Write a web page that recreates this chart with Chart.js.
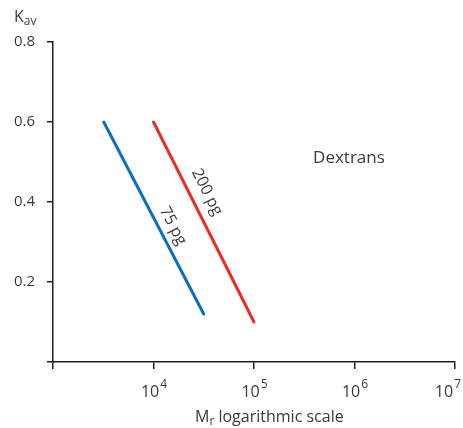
<!DOCTYPE html>
<html>
<head>
<meta charset="utf-8">
<script src="https://cdn.jsdelivr.net/npm/chart.js@4"></script>
<style>
  html, body { margin: 0; padding: 0; background: #fff; }
</style>
</head>
<body>
<canvas id="chart" width="463" height="428"></canvas>
<script>
// Данные
const seriesNames = ["75 pg", "200 pg"];
const mr75 = [3200, 31600];
const kav75 = [0.6, 0.12];
const mr200 = [10000, 100000];
const kav200 = [0.6, 0.1];
const xTickValues = [1e3, 1e4, 1e5, 1e6, 1e7];
const xTickExponents = ["", "4", "5", "6", "7"];
const yTickValues = [0, 0.2, 0.4, 0.6, 0.8];
const yTickLabels = ["", "0.2", "0.4", "0.6", "0.8"];
// Точки привязки подписей (в координатах данных)
const label75At = [15600, 0.34];
const label200At = [34000, 0.425];
const noteText = "Dextrans";
const noteAt = [880000, 0.51];

const FONT = "'Open Sans', sans-serif";
const TEXT = "#3a3a3a";
const AXIS = "#1e1e1e";

const toPoints = (xs, ys) => xs.map((x, i) => ({ x: x, y: ys[i] }));

// Подписи, заголовки осей, степени десяти
const annotations = {
  id: "annotations",
  afterDraw(chart) {
    let c = chart.ctx;
    let xs = chart.scales.x;
    let ys = chart.scales.y;
    c.save();
    c.fillStyle = TEXT;
    c.textAlign = "left";
    c.textBaseline = "alphabetic";

    // 10^n
    xTickValues.forEach((v, i) => {
      let e = xTickExponents[i];
      if (!e) return;
      let px = xs.getPixelForValue(v);
      c.font = "16px " + FONT;
      let bw = c.measureText("10").width;
      c.font = "12px " + FONT;
      let ew = c.measureText(e).width;
      let x0 = px - (bw + ew) / 2;
      // последняя подпись прижимается к краю
      x0 = Math.min(x0, chart.width - 2 - bw - ew - 1);
      c.font = "16px " + FONT;
      c.fillText("10", x0, 397);
      c.font = "12px " + FONT;
      c.fillText(e, x0 + bw + 1, 388);
    });

    // K_av
    c.font = "16px " + FONT;
    c.fillText("K", 14, 22);
    let kw = c.measureText("K").width;
    c.font = "12px " + FONT;
    c.fillText("av", 14 + kw, 25);

    // M_r logarithmic scale
    let tx = 195;
    c.font = "16px " + FONT;
    c.fillText("M", tx, 422);
    tx += c.measureText("M").width;
    c.font = "12px " + FONT;
    c.fillText("r", tx, 425);
    tx += c.measureText("r").width;
    c.font = "16px " + FONT;
    c.fillText(" logarithmic scale", tx, 422);

    // Dextrans
    c.font = "17px " + FONT;
    c.textAlign = "center";
    c.textBaseline = "middle";
    c.fillText(noteText, xs.getPixelForValue(noteAt[0]), ys.getPixelForValue(noteAt[1]));

    // подписи вдоль линий
    const drawAlong = (text, at, mx, my) => {
      let dx = xs.getPixelForValue(mx[1]) - xs.getPixelForValue(mx[0]);
      let dy = ys.getPixelForValue(my[1]) - ys.getPixelForValue(my[0]);
      c.save();
      c.translate(xs.getPixelForValue(at[0]), ys.getPixelForValue(at[1]));
      c.rotate(Math.atan2(dy, dx));
      c.font = "16px " + FONT;
      c.fillText(text, 0, 0);
      c.restore();
    };
    drawAlong(seriesNames[0], label75At, mr75, kav75);
    drawAlong(seriesNames[1], label200At, mr200, kav200);
    c.restore();
  },
};

let ctx = document.getElementById("chart").getContext("2d");
let chart = new Chart(ctx, {
  type: "line",
  data: {
    datasets: [
      {
        label: seriesNames[0],
        data: toPoints(mr75, kav75),
        borderColor: "#0b6fc0",
        borderWidth: 3,
        borderCapStyle: "round",
        pointRadius: 0,
      },
      {
        label: seriesNames[1],
        data: toPoints(mr200, kav200),
        borderColor: "#eb2c25",
        borderWidth: 3,
        borderCapStyle: "round",
        pointRadius: 0,
      },
    ],
  },
  options: {
    responsive: false,
    animation: false,
    layout: { padding: { left: 0, top: 42, right: 8, bottom: 0 } },
    plugins: {
      legend: { display: false },
      tooltip: { enabled: false },
    },
    scales: {
      x: {
        type: "logarithmic",
        min: 1e3,
        max: 1e7,
        afterBuildTicks: (s) => {
          s.ticks = xTickValues.map((v) => ({ value: v }));
        },
        afterFit: (s) => {
          s.height = 66;
          s.paddingLeft = 0;
          s.paddingRight = 0;
        },
        ticks: { autoSkip: false, maxRotation: 0, callback: () => "" },
        grid: { drawOnChartArea: false, tickLength: 7, color: AXIS, lineWidth: 1.5 },
        border: { color: AXIS, width: 1.5 },
      },
      y: {
        min: 0,
        max: 0.8,
        afterBuildTicks: (s) => {
          s.ticks = yTickValues.map((v) => ({ value: v }));
        },
        afterFit: (s) => {
          s.width = 53;
          s.paddingTop = 0;
          s.paddingBottom = 0;
        },
        ticks: {
          autoSkip: false,
          padding: 12,
          color: TEXT,
          font: { family: FONT, size: 15 },
          callback: (v, i) => yTickLabels[i],
        },
        grid: { drawOnChartArea: false, tickLength: 6, color: AXIS, lineWidth: 1.5 },
        border: { color: AXIS, width: 1.5 },
      },
    },
  },
  plugins: [annotations],
});
</script>
</body>
</html>
